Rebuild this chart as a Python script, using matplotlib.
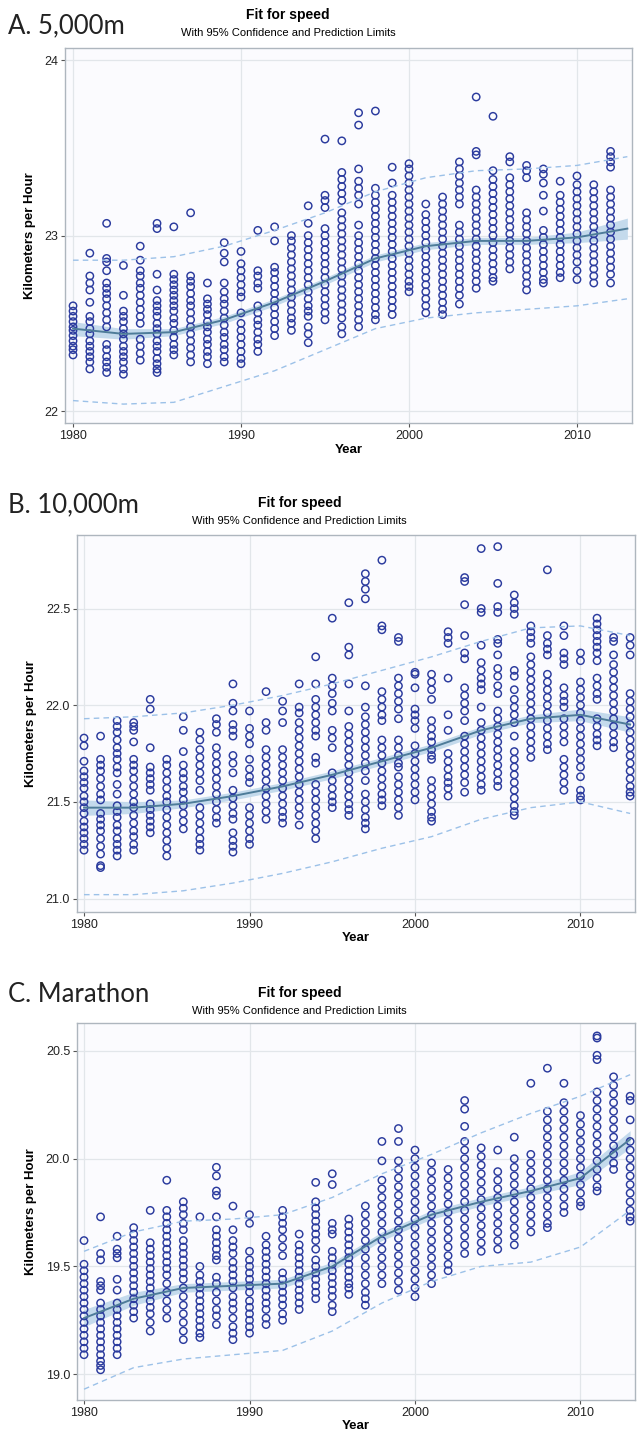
import matplotlib
matplotlib.use('Agg')
import matplotlib.pyplot as plt

# ---- data (km/h per runner, grouped by year) ----
speed_5000 = {
    1980: [22.60, 22.57, 22.54, 22.51, 22.48, 22.46, 22.43, 22.40, 22.37, 22.35, 22.32],
    1981: [22.90, 22.77, 22.73, 22.69, 22.62, 22.54, 22.51, 22.47, 22.44, 22.40, 22.37, 22.34, 22.31, 22.28, 22.24],
    1982: [23.07, 22.87, 22.85, 22.80, 22.73, 22.70, 22.67, 22.64, 22.60, 22.56, 22.52, 22.48, 22.38, 22.35, 22.31, 22.28, 22.25, 22.22],
    1983: [22.83, 22.66, 22.57, 22.54, 22.51, 22.47, 22.44, 22.41, 22.37, 22.34, 22.31, 22.28, 22.24, 22.21],
    1984: [22.94, 22.86, 22.80, 22.77, 22.73, 22.70, 22.66, 22.62, 22.58, 22.54, 22.50, 22.41, 22.37, 22.33, 22.29],
    1985: [23.07, 23.04, 22.78, 22.69, 22.63, 22.60, 22.57, 22.54, 22.50, 22.47, 22.44, 22.40, 22.37, 22.34, 22.30, 22.27, 22.24, 22.22],
    1986: [23.05, 22.78, 22.75, 22.72, 22.69, 22.66, 22.63, 22.60, 22.57, 22.53, 22.50, 22.46, 22.42, 22.38, 22.35, 22.32],
    1987: [23.13, 22.77, 22.74, 22.71, 22.67, 22.63, 22.60, 22.56, 22.52, 22.48, 22.44, 22.40, 22.36, 22.32, 22.28],
    1988: [22.73, 22.64, 22.61, 22.58, 22.55, 22.51, 22.48, 22.45, 22.41, 22.38, 22.34, 22.31, 22.27],
    1989: [22.96, 22.90, 22.85, 22.73, 22.68, 22.64, 22.61, 22.57, 22.53, 22.49, 22.45, 22.42, 22.38, 22.35, 22.31, 22.28],
    1990: [22.91, 22.84, 22.80, 22.76, 22.72, 22.68, 22.65, 22.56, 22.50, 22.46, 22.42, 22.38, 22.34, 22.30, 22.27],
    1991: [23.03, 22.80, 22.77, 22.73, 22.70, 22.60, 22.56, 22.52, 22.49, 22.45, 22.41, 22.38, 22.34],
    1992: [23.05, 22.97, 22.82, 22.79, 22.75, 22.71, 22.67, 22.63, 22.59, 22.55, 22.51, 22.47, 22.43],
    1993: [23.00, 22.97, 22.93, 22.89, 22.85, 22.81, 22.77, 22.73, 22.69, 22.65, 22.61, 22.57, 22.53, 22.50, 22.46],
    1994: [23.17, 23.07, 23.00, 22.96, 22.92, 22.88, 22.84, 22.80, 22.76, 22.72, 22.68, 22.64, 22.60, 22.57, 22.54, 22.48, 22.44, 22.39],
    1995: [23.55, 23.23, 23.20, 23.16, 23.04, 23.00, 22.96, 22.92, 22.88, 22.84, 22.80, 22.76, 22.72, 22.68, 22.64, 22.60, 22.56, 22.52],
    1996: [23.54, 23.36, 23.32, 23.28, 23.24, 23.20, 23.13, 23.09, 23.05, 23.01, 22.97, 22.93, 22.89, 22.85, 22.81, 22.77, 22.73, 22.69, 22.65, 22.61, 22.57, 22.53, 22.48, 22.44],
    1997: [23.70, 23.63, 23.38, 23.31, 23.27, 23.23, 23.18, 23.06, 23.00, 22.96, 22.92, 22.88, 22.84, 22.80, 22.76, 22.72, 22.68, 22.64, 22.60, 22.56, 22.52, 22.48],
    1998: [23.71, 23.27, 23.23, 23.19, 23.15, 23.11, 23.07, 23.03, 22.99, 22.95, 22.91, 22.87, 22.83, 22.79, 22.75, 22.71, 22.67, 22.63, 22.59, 22.55, 22.52],
    1999: [23.39, 23.30, 23.23, 23.19, 23.15, 23.11, 23.07, 23.03, 22.99, 22.95, 22.91, 22.87, 22.83, 22.79, 22.75, 22.71, 22.67, 22.63, 22.59, 22.55],
    2000: [23.41, 23.38, 23.34, 23.30, 23.26, 23.22, 23.18, 23.14, 23.10, 23.06, 23.02, 22.98, 22.94, 22.90, 22.86, 22.82, 22.78, 22.74, 22.71, 22.68],
    2001: [23.18, 23.12, 23.08, 23.04, 23.00, 22.96, 22.92, 22.88, 22.84, 22.80, 22.76, 22.72, 22.68, 22.64, 22.60, 22.56],
    2002: [23.22, 23.18, 23.14, 23.10, 23.06, 23.02, 22.98, 22.94, 22.90, 22.86, 22.82, 22.78, 22.74, 22.70, 22.66, 22.62, 22.58, 22.55],
    2003: [23.42, 23.38, 23.34, 23.30, 23.26, 23.22, 23.18, 23.06, 23.02, 22.98, 22.94, 22.90, 22.86, 22.82, 22.78, 22.74, 22.70, 22.66, 22.61],
    2004: [23.79, 23.48, 23.46, 23.26, 23.22, 23.18, 23.14, 23.10, 23.06, 23.02, 22.98, 22.94, 22.90, 22.86, 22.82, 22.78, 22.74, 22.70],
    2005: [23.68, 23.37, 23.32, 23.28, 23.24, 23.20, 23.16, 23.12, 23.08, 23.04, 23.00, 22.96, 22.92, 22.88, 22.84, 22.80, 22.76, 22.74],
    2006: [23.45, 23.42, 23.33, 23.29, 23.25, 23.21, 23.17, 23.13, 23.09, 23.05, 23.01, 22.97, 22.93, 22.89, 22.85, 22.81],
    2007: [23.40, 23.37, 23.33, 23.13, 23.09, 23.05, 23.01, 22.97, 22.93, 22.89, 22.85, 22.81, 22.77, 22.73, 22.69],
    2008: [23.38, 23.35, 23.30, 23.23, 23.14, 23.03, 22.99, 22.95, 22.91, 22.87, 22.83, 22.79, 22.75, 22.73],
    2009: [23.31, 23.23, 23.19, 23.15, 23.11, 23.07, 23.03, 22.99, 22.95, 22.91, 22.87, 22.83, 22.79, 22.76],
    2010: [23.34, 23.29, 23.25, 23.21, 23.17, 23.13, 23.09, 23.05, 23.01, 22.97, 22.93, 22.89, 22.85, 22.80, 22.75],
    2011: [23.29, 23.25, 23.21, 23.17, 23.13, 23.09, 23.05, 23.01, 22.97, 22.93, 22.89, 22.85, 22.81, 22.77, 22.73],
    2012: [23.48, 23.45, 23.42, 23.39, 23.26, 23.22, 23.18, 23.14, 23.10, 23.06, 23.02, 22.98, 22.94, 22.90, 22.86, 22.82, 22.78, 22.73],
}

speed_10000 = {
    1980: [21.83, 21.79, 21.71, 21.66, 21.63, 21.60, 21.57, 21.53, 21.50, 21.47, 21.44, 21.40, 21.37, 21.34, 21.31, 21.28, 21.25],
    1981: [21.84, 21.72, 21.69, 21.66, 21.62, 21.58, 21.54, 21.51, 21.44, 21.41, 21.38, 21.35, 21.31, 21.27, 21.23, 21.17, 21.16],
    1982: [21.92, 21.89, 21.86, 21.82, 21.78, 21.75, 21.72, 21.68, 21.65, 21.59, 21.54, 21.48, 21.45, 21.42, 21.38, 21.35, 21.31, 21.28, 21.25, 21.22],
    1983: [21.91, 21.89, 21.87, 21.81, 21.72, 21.69, 21.66, 21.62, 21.58, 21.54, 21.50, 21.47, 21.43, 21.39, 21.35, 21.32, 21.28, 21.25],
    1984: [22.03, 21.98, 21.78, 21.68, 21.65, 21.62, 21.59, 21.56, 21.49, 21.46, 21.43, 21.40, 21.37, 21.34],
    1985: [21.72, 21.69, 21.65, 21.61, 21.57, 21.53, 21.50, 21.46, 21.42, 21.38, 21.34, 21.30, 21.26, 21.22],
    1986: [21.94, 21.87, 21.76, 21.69, 21.65, 21.62, 21.58, 21.55, 21.51, 21.48, 21.44, 21.40, 21.36],
    1987: [21.86, 21.82, 21.77, 21.73, 21.69, 21.65, 21.61, 21.56, 21.47, 21.43, 21.39, 21.35, 21.31, 21.28, 21.25],
    1988: [21.93, 21.90, 21.86, 21.78, 21.74, 21.70, 21.66, 21.62, 21.58, 21.54, 21.50, 21.46, 21.42, 21.39],
    1989: [22.11, 22.01, 21.97, 21.90, 21.87, 21.84, 21.74, 21.70, 21.65, 21.56, 21.52, 21.48, 21.44, 21.41, 21.34, 21.30, 21.27, 21.24],
    1990: [21.97, 21.88, 21.84, 21.80, 21.72, 21.67, 21.63, 21.60, 21.47, 21.43, 21.39, 21.35, 21.31, 21.28],
    1991: [22.07, 21.91, 21.87, 21.77, 21.73, 21.69, 21.65, 21.61, 21.57, 21.53, 21.49, 21.45, 21.41],
    1992: [22.02, 21.97, 21.91, 21.77, 21.73, 21.69, 21.65, 21.61, 21.57, 21.53, 21.49, 21.45, 21.42, 21.39],
    1993: [22.11, 21.99, 21.96, 21.91, 21.87, 21.83, 21.79, 21.75, 21.71, 21.67, 21.63, 21.59, 21.55, 21.51, 21.47, 21.43, 21.38],
    1994: [22.25, 22.11, 22.03, 21.99, 21.95, 21.91, 21.87, 21.84, 21.73, 21.70, 21.59, 21.55, 21.51, 21.47, 21.43, 21.39, 21.35, 21.31],
    1995: [22.45, 22.14, 22.10, 22.06, 22.01, 21.97, 21.87, 21.83, 21.78, 21.65, 21.61, 21.57, 21.53, 21.50, 21.47],
    1996: [22.53, 22.30, 22.26, 22.11, 21.97, 21.89, 21.85, 21.81, 21.77, 21.73, 21.69, 21.65, 21.61, 21.57, 21.53, 21.49, 21.46, 21.43],
    1997: [22.68, 22.64, 22.60, 22.55, 22.10, 21.99, 21.94, 21.90, 21.86, 21.82, 21.78, 21.74, 21.70, 21.66, 21.61, 21.54, 21.50, 21.46, 21.42, 21.39, 21.36],
    1998: [22.75, 22.41, 22.39, 22.07, 22.03, 21.99, 21.95, 21.92, 21.82, 21.78, 21.74, 21.70, 21.66, 21.62, 21.58, 21.54, 21.51, 21.48],
    1999: [22.35, 22.33, 22.14, 22.10, 22.06, 22.02, 21.98, 21.93, 21.82, 21.78, 21.74, 21.70, 21.68, 21.63, 21.59, 21.55, 21.51, 21.47, 21.43],
    2000: [22.17, 22.16, 22.09, 21.98, 21.95, 21.92, 21.88, 21.79, 21.75, 21.71, 21.67, 21.63, 21.59, 21.55, 21.51],
    2001: [22.16, 22.12, 22.08, 22.03, 21.92, 21.88, 21.84, 21.81, 21.77, 21.74, 21.72, 21.61, 21.57, 21.53, 21.49, 21.45, 21.42, 21.40],
    2002: [22.38, 22.35, 22.32, 22.14, 21.95, 21.87, 21.75, 21.71, 21.67, 21.63, 21.60, 21.57, 21.53],
    2003: [22.66, 22.64, 22.52, 22.36, 22.27, 22.24, 22.09, 22.05, 22.01, 21.97, 21.92, 21.84, 21.80, 21.76, 21.72, 21.68, 21.64, 21.60, 21.55],
    2004: [22.81, 22.50, 22.48, 22.31, 22.22, 22.18, 22.14, 22.11, 22.08, 21.99, 21.91, 21.87, 21.83, 21.79, 21.75, 21.71, 21.67, 21.63, 21.59, 21.56],
    2005: [22.82, 22.63, 22.51, 22.48, 22.34, 22.32, 22.26, 22.19, 22.15, 22.10, 22.06, 21.97, 21.93, 21.89, 21.85, 21.81, 21.77, 21.73, 21.69, 21.65, 21.61, 21.58],
    2006: [22.57, 22.53, 22.50, 22.47, 22.18, 22.15, 22.08, 22.03, 21.99, 21.95, 21.91, 21.84, 21.76, 21.72, 21.68, 21.64, 21.60, 21.56, 21.52, 21.48, 21.45, 21.43],
    2007: [22.41, 22.38, 22.35, 22.32, 22.25, 22.21, 22.17, 22.13, 22.09, 22.05, 22.01, 21.97, 21.93, 21.89, 21.85, 21.81, 21.77, 21.73],
    2008: [22.70, 22.36, 22.32, 22.29, 22.26, 22.16, 22.12, 22.08, 22.04, 22.00, 21.96, 21.92, 21.88, 21.84, 21.80, 21.77],
    2009: [22.41, 22.36, 22.27, 22.24, 22.21, 22.09, 22.05, 22.02, 21.99, 21.93, 21.89, 21.85, 21.81, 21.72, 21.68, 21.64, 21.60, 21.56],
    2010: [22.27, 22.23, 22.12, 22.08, 22.04, 22.00, 21.96, 21.92, 21.88, 21.84, 21.80, 21.76, 21.72, 21.68, 21.63, 21.56, 21.53, 21.51],
    2011: [22.45, 22.42, 22.39, 22.36, 22.33, 22.30, 22.27, 22.23, 22.14, 22.10, 22.06, 22.03, 21.93, 21.89, 21.85, 21.82, 21.79],
    2012: [22.35, 22.33, 22.26, 22.21, 22.17, 22.13, 22.09, 22.05, 22.01, 21.97, 21.93, 21.89, 21.85, 21.81, 21.78],
    2013: [22.35, 22.31, 22.26, 22.06, 22.02, 21.98, 21.94, 21.90, 21.86, 21.82, 21.78, 21.74, 21.70, 21.66, 21.62, 21.58, 21.55, 21.53],
}

speed_marathon = {
    1980: [19.62, 19.51, 19.48, 19.45, 19.42, 19.39, 19.36, 19.33, 19.30, 19.27, 19.24, 19.21, 19.18, 19.15, 19.12, 19.09],
    1981: [19.73, 19.56, 19.53, 19.43, 19.41, 19.39, 19.33, 19.30, 19.27, 19.24, 19.21, 19.18, 19.15, 19.12, 19.09, 19.06, 19.04, 19.02],
    1982: [19.64, 19.58, 19.56, 19.54, 19.44, 19.39, 19.33, 19.30, 19.27, 19.24, 19.21, 19.18, 19.15, 19.12, 19.09],
    1983: [19.68, 19.65, 19.62, 19.59, 19.56, 19.53, 19.50, 19.47, 19.44, 19.41, 19.38, 19.35, 19.32, 19.29, 19.26],
    1984: [19.76, 19.61, 19.58, 19.55, 19.52, 19.49, 19.46, 19.43, 19.40, 19.37, 19.34, 19.31, 19.28, 19.24, 19.20],
    1985: [19.90, 19.76, 19.73, 19.70, 19.67, 19.64, 19.61, 19.58, 19.55, 19.52, 19.49, 19.46, 19.42, 19.38, 19.34, 19.30, 19.26],
    1986: [19.80, 19.77, 19.74, 19.70, 19.67, 19.62, 19.59, 19.56, 19.53, 19.50, 19.47, 19.44, 19.40, 19.36, 19.32, 19.28, 19.24, 19.20, 19.16],
    1987: [19.73, 19.50, 19.46, 19.43, 19.40, 19.37, 19.34, 19.31, 19.28, 19.25, 19.22, 19.19, 19.17],
    1988: [19.96, 19.92, 19.85, 19.83, 19.73, 19.67, 19.64, 19.61, 19.58, 19.55, 19.53, 19.45, 19.42, 19.38, 19.34, 19.30, 19.27, 19.23],
    1989: [19.78, 19.67, 19.62, 19.59, 19.56, 19.52, 19.49, 19.46, 19.43, 19.40, 19.36, 19.33, 19.30, 19.26, 19.22, 19.19, 19.16],
    1990: [19.74, 19.70, 19.57, 19.53, 19.50, 19.47, 19.44, 19.41, 19.38, 19.34, 19.31, 19.28, 19.25, 19.22, 19.19],
    1991: [19.64, 19.60, 19.57, 19.54, 19.51, 19.48, 19.45, 19.42, 19.39, 19.36, 19.33, 19.30, 19.26, 19.23],
    1992: [19.76, 19.73, 19.70, 19.67, 19.63, 19.59, 19.55, 19.47, 19.44, 19.41, 19.38, 19.35, 19.32, 19.28, 19.25],
    1993: [19.65, 19.60, 19.57, 19.54, 19.51, 19.48, 19.45, 19.42, 19.39, 19.36, 19.33, 19.30],
    1994: [19.89, 19.80, 19.77, 19.74, 19.71, 19.68, 19.65, 19.62, 19.58, 19.53, 19.50, 19.47, 19.44, 19.41, 19.38, 19.35],
    1995: [19.93, 19.88, 19.70, 19.67, 19.65, 19.57, 19.54, 19.51, 19.48, 19.45, 19.42, 19.39, 19.36, 19.32, 19.29],
    1996: [19.72, 19.69, 19.66, 19.63, 19.60, 19.57, 19.54, 19.51, 19.48, 19.45, 19.42, 19.40, 19.37],
    1997: [19.78, 19.74, 19.70, 19.66, 19.62, 19.58, 19.54, 19.50, 19.46, 19.42, 19.38, 19.35, 19.32],
    1998: [20.08, 19.99, 19.90, 19.86, 19.82, 19.78, 19.74, 19.70, 19.66, 19.62, 19.58, 19.54, 19.50, 19.46, 19.42],
    1999: [20.14, 20.08, 19.99, 19.95, 19.91, 19.87, 19.83, 19.79, 19.75, 19.71, 19.67, 19.63, 19.59, 19.55, 19.51, 19.47, 19.43, 19.39],
    2000: [20.04, 20.00, 19.96, 19.92, 19.88, 19.84, 19.80, 19.76, 19.72, 19.68, 19.64, 19.60, 19.56, 19.52, 19.48, 19.44, 19.40, 19.36],
    2001: [19.98, 19.94, 19.90, 19.86, 19.82, 19.78, 19.74, 19.70, 19.66, 19.62, 19.58, 19.54, 19.50, 19.46, 19.42],
    2002: [19.95, 19.91, 19.87, 19.83, 19.79, 19.75, 19.71, 19.67, 19.63, 19.59, 19.55, 19.51, 19.48],
    2003: [20.27, 20.23, 20.15, 20.08, 20.04, 20.00, 19.96, 19.92, 19.88, 19.84, 19.80, 19.76, 19.72, 19.68, 19.64, 19.60, 19.56],
    2004: [20.05, 20.01, 19.97, 19.93, 19.89, 19.85, 19.81, 19.77, 19.73, 19.69, 19.65, 19.61, 19.57],
    2005: [20.04, 19.94, 19.90, 19.86, 19.82, 19.78, 19.74, 19.70, 19.66, 19.62, 19.58],
    2006: [20.10, 20.00, 19.96, 19.92, 19.88, 19.84, 19.80, 19.76, 19.72, 19.68, 19.64, 19.60],
    2007: [20.35, 20.02, 19.98, 19.94, 19.90, 19.86, 19.82, 19.78, 19.74, 19.70, 19.66],
    2008: [20.42, 20.22, 20.18, 20.14, 20.10, 20.06, 20.02, 19.98, 19.94, 19.90, 19.86, 19.82, 19.78, 19.74, 19.70, 19.68],
    2009: [20.35, 20.26, 20.22, 20.18, 20.14, 20.10, 20.06, 20.02, 19.98, 19.94, 19.90, 19.86, 19.82, 19.78, 19.75],
    2010: [20.20, 20.16, 20.12, 20.08, 20.04, 20.00, 19.96, 19.92, 19.88, 19.84, 19.80, 19.78],
    2011: [20.57, 20.56, 20.48, 20.46, 20.31, 20.27, 20.23, 20.19, 20.15, 20.11, 20.07, 20.03, 19.99, 19.95, 19.91, 19.87, 19.85],
    2012: [20.38, 20.34, 20.30, 20.26, 20.22, 20.18, 20.14, 20.10, 20.06, 20.02, 19.98, 19.95],
    2013: [20.29, 20.27, 20.18, 20.08, 20.04, 20.00, 19.96, 19.92, 19.88, 19.84, 19.80, 19.76, 19.73, 19.71],
}

# fitted curve, confidence half-width and prediction limits, read at these years
curve_years = [1980, 1983, 1986, 1989, 1992, 1995, 1998, 2001, 2004, 2007, 2010, 2013]

fit_5000 = [22.47, 22.44, 22.45, 22.52, 22.62, 22.74, 22.87, 22.94, 22.97, 22.97, 22.99, 23.04]
ci_5000 = [0.04, 0.03, 0.02, 0.02, 0.02, 0.02, 0.02, 0.02, 0.02, 0.02, 0.03, 0.06]
upper_5000 = [22.86, 22.86, 22.88, 22.94, 23.03, 23.13, 23.25, 23.33, 23.37, 23.38, 23.40, 23.45]
lower_5000 = [22.06, 22.04, 22.05, 22.14, 22.23, 22.35, 22.47, 22.53, 22.56, 22.58, 22.60, 22.64]

fit_10000 = [21.47, 21.47, 21.49, 21.53, 21.58, 21.64, 21.71, 21.78, 21.87, 21.93, 21.95, 21.90]
ci_10000 = [0.04, 0.03, 0.02, 0.02, 0.02, 0.02, 0.02, 0.02, 0.02, 0.02, 0.03, 0.04]
upper_10000 = [21.93, 21.94, 21.96, 22.00, 22.05, 22.11, 22.18, 22.25, 22.33, 22.40, 22.41, 22.36]
lower_10000 = [21.02, 21.02, 21.04, 21.08, 21.13, 21.19, 21.26, 21.32, 21.41, 21.47, 21.50, 21.44]

fit_marathon = [19.26, 19.35, 19.40, 19.41, 19.42, 19.50, 19.64, 19.74, 19.80, 19.85, 19.91, 20.09]
ci_marathon = [0.04, 0.03, 0.02, 0.02, 0.02, 0.02, 0.02, 0.02, 0.02, 0.02, 0.03, 0.04]
upper_marathon = [19.57, 19.66, 19.71, 19.72, 19.74, 19.82, 19.93, 20.02, 20.12, 20.21, 20.29, 20.39]
lower_marathon = [18.93, 19.03, 19.07, 19.09, 19.11, 19.20, 19.33, 19.43, 19.50, 19.52, 19.59, 19.76]

yticks_5000 = [22, 23, 24]
yticks_10000 = [21.0, 21.5, 22.0, 22.5]
yticks_marathon = [19.0, 19.5, 20.0, 20.5]
xticks = [1980, 1990, 2000, 2010]

SAS_FONT = 'Liberation Sans'
MARKER = '#2B3B9E'
FIT = '#4E7C99'
BAND = '#C4DAEC'
LIMIT = '#9CC1E8'


def draw_panel(ax, speeds, fit, ci, upper, lower, yticks, ylim, xlim, yfmt):
    xs, ys = [], []
    for year, vals in speeds.items():
        xs += [year] * len(vals)
        ys += vals
    lo_band = [f - c for f, c in zip(fit, ci)]
    hi_band = [f + c for f, c in zip(fit, ci)]

    ax.set_facecolor('#FBFBFE')
    ax.fill_between(curve_years, lo_band, hi_band, color=BAND, lw=0, zorder=2)
    ax.scatter(xs, ys, s=28, facecolors='none', edgecolors=MARKER, linewidths=1.05, zorder=3)
    ax.plot(curve_years, fit, color=FIT, lw=1.4, zorder=4)
    ax.plot(curve_years, upper, color=LIMIT, lw=1.0, dashes=(4, 3), zorder=4)
    ax.plot(curve_years, lower, color=LIMIT, lw=1.0, dashes=(4, 3), zorder=4)

    ax.set_xlim(*xlim)
    ax.set_ylim(*ylim)
    ax.set_xticks(xticks)
    ax.set_yticks(yticks)
    ax.set_yticklabels([yfmt.format(t) for t in yticks])
    ax.grid(True, color='#E2E6EA', lw=0.9, zorder=0)
    ax.set_axisbelow(True)
    for sp in ax.spines.values():
        sp.set_color('#AEB6BE')
        sp.set_linewidth(1.0)
    ax.tick_params(colors='#555555', labelcolor='#222222', labelsize=9, length=3, width=0.8, pad=2)
    for lab in ax.get_xticklabels() + ax.get_yticklabels():
        lab.set_fontfamily(SAS_FONT)
    ax.set_xlabel('Year', fontsize=9.5, fontweight='bold', fontfamily=SAS_FONT, labelpad=1)
    ax.set_ylabel('Kilometers per Hour', fontsize=9.5, fontweight='bold', fontfamily=SAS_FONT, labelpad=6)


fig = plt.figure(figsize=(6.37, 14.5), dpi=100)
fig.patch.set_facecolor('white')

ax1 = fig.add_axes([0.102, 0.708, 0.890, 0.259])
ax2 = fig.add_axes([0.121, 0.371, 0.876, 0.260])
ax3 = fig.add_axes([0.121, 0.0345, 0.876, 0.260])

draw_panel(ax1, speed_5000, fit_5000, ci_5000, upper_5000, lower_5000,
           yticks_5000, (21.93, 24.07), (1979.52, 2013.27), '{:.0f}')
draw_panel(ax2, speed_10000, fit_10000, ci_10000, upper_10000, lower_10000,
           yticks_10000, (20.93, 22.88), (1979.58, 2013.3), '{:.1f}')
draw_panel(ax3, speed_marathon, fit_marathon, ci_marathon, upper_marathon, lower_marathon,
           yticks_marathon, (18.88, 20.63), (1979.58, 2013.3), '{:.1f}')

# panel letters and SAS titles (pixel rows from the top)
panels = [('A. 5,000m', 26, 15, 33, 0.452),
          ('B. 10,000m', 505, 503, 521, 0.47),
          ('C. Marathon', 994, 993, 1011, 0.47)]
H = 1450.0
for label, ly, ty, sy, tx in panels:
    fig.text(8 / 637, 1 - ly / H, label, fontsize=18.5, fontfamily='Lato',
             color='#222222', va='center', ha='left')
    fig.text(tx, 1 - ty / H, 'Fit for speed', fontsize=10, fontweight='bold',
             fontfamily=SAS_FONT, ha='center', va='center')
    fig.text(tx, 1 - sy / H, 'With 95% Confidence and Prediction Limits', fontsize=8,
             fontfamily=SAS_FONT, ha='center', va='center')

fig.savefig('out.png', dpi=100)
